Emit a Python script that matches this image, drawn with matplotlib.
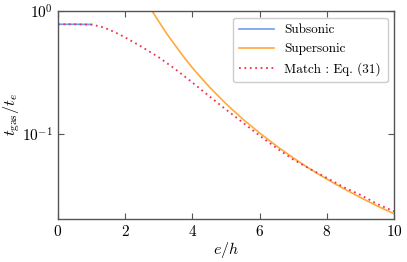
import matplotlib
matplotlib.use("Agg")
import matplotlib.pyplot as plt
import matplotlib.ticker as mticker

plt.rcParams["font.family"] = "serif"
plt.rcParams["font.serif"] = ["cmr10"]
plt.rcParams["mathtext.fontset"] = "cm"
plt.rcParams["axes.formatter.use_mathtext"] = True

# ── data ──────────────────────────────────────────────────────────────────────
sub_e = [0.0, 0.25, 0.5, 0.75, 1.0]
sub_t = [0.78, 0.78, 0.78, 0.779, 0.778]

sup_e = [2.7, 2.8, 3.0, 3.25, 3.5, 3.75, 4.0, 4.25, 4.5, 4.75, 5.0, 5.5, 6.0,
         6.5, 7.0, 7.5, 8.0, 8.5, 9.0, 9.5, 10.0]
sup_t = [1.10, 1.0, 0.82, 0.645, 0.52, 0.42, 0.345, 0.288, 0.242, 0.206,
         0.176, 0.132, 0.102, 0.080, 0.064, 0.052, 0.043, 0.036, 0.0305,
         0.026, 0.0225]

match_e = [0.0, 0.5, 1.0, 1.25, 1.5, 1.75, 2.0, 2.5, 3.0, 3.5, 4.0, 4.5, 5.0,
           5.5, 6.0, 6.5, 7.0, 7.5, 8.0, 8.5, 9.0, 9.5, 10.0]
match_t = [0.78, 0.78, 0.775, 0.75, 0.71, 0.66, 0.61, 0.51, 0.42, 0.335,
           0.262, 0.203, 0.158, 0.124, 0.097, 0.077, 0.062, 0.052, 0.044,
           0.037, 0.032, 0.027, 0.0235]

# ── plot ──────────────────────────────────────────────────────────────────────
fig = plt.figure(figsize=(4.07, 2.62), dpi=100)
ax = fig.add_axes([0.1425, 0.164, 0.826, 0.794])

ax.plot(sub_e, sub_t, color="#6f9cf0", lw=1.2, label="Subsonic")
ax.plot(sup_e, sup_t, color="#ffaa3a", lw=1.2, label="Supersonic")
ax.plot(match_e, match_t, color="#f2304e", lw=1.3, ls=(0, (1, 2)),
        label="Match : Eq. (31)")

ax.set_yscale("log")
ax.set_xlim(0, 10)
ax.set_ylim(0.0204, 1.0)
ax.yaxis.set_minor_locator(mticker.NullLocator())
ax.set_xticks([0, 2, 4, 6, 8, 10])

ax.tick_params(direction="in", top=True, right=True, length=4,
               labelsize=11, color="#555555", width=0.8)
for sp in ax.spines.values():
    sp.set_color("#555555")
    sp.set_linewidth(1.0)

ax.set_xlabel(r"$e/h$", fontsize=11.5, labelpad=1)
ax.set_ylabel(r"$t_{\rm gas}/t_e$", fontsize=11.5, labelpad=0)

leg = ax.legend(loc="upper right", fontsize=9.5, framealpha=1,
                edgecolor="#cccccc", handlelength=2.6, borderpad=0.5)

fig.savefig("out.png", dpi=100)
